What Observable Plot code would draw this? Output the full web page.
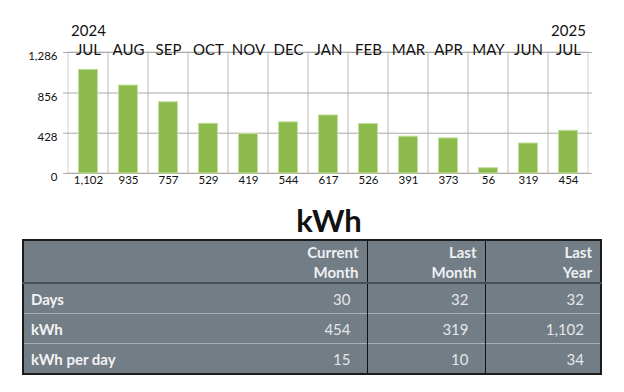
<!DOCTYPE html>
<html>
<head>
<meta charset="utf-8">
<script src="https://cdn.jsdelivr.net/npm/d3@7"></script>
<script src="https://cdn.jsdelivr.net/npm/@observablehq/plot@0.6"></script>
<style>
  html, body { margin: 0; padding: 0; background: #fff; }
  body { width: 624px; height: 392px; position: relative; font-family: Lato, "Open Sans", sans-serif; overflow: hidden; }
  #chart { position: absolute; left: 0; top: 0; }
  #title { position: absolute; left: 0; top: 201px; width: 624px; text-align: center; padding-left: 34px; box-sizing: border-box;
           font-size: 31px; font-weight: bold; color: #111; line-height: 38px; }
  table { position: absolute; left: 22px; top: 239px; width: 578px; table-layout: fixed; border-collapse: collapse; background: #737d86;
          border: 2px solid #1c1c1c; color: #eef0f2; font-size: 15px; }
  td, th { padding: 0; }
  th { font-weight: bold; text-align: right; padding-right: 8px; height: 41px; line-height: 20px; vertical-align: middle; }
  thead tr { border-bottom: 2px solid #4a5057; }
  tbody tr + tr { border-top: 1px solid #a8aeb4; }
  tbody td { height: 29px; text-align: right; padding-right: 16px; color: #e4e6e8; }
  tbody td.lab { text-align: left; padding-left: 7px; font-weight: bold; color: #f2f3f4; }
  .sep { border-left: 1px solid #111; }
</style>
</head>
<body>
<div id="chart"></div>
<div id="title">kWh</div>
<table id="tbl"></table>
<script>
// ---- data ----
const keys = ["2024-07","2024-08","2024-09","2024-10","2024-11","2024-12","2025-01","2025-02","2025-03","2025-04","2025-05","2025-06","2025-07"];
const months = ["JUL","AUG","SEP","OCT","NOV","DEC","JAN","FEB","MAR","APR","MAY","JUN","JUL"];
const kwh = [1102, 935, 757, 529, 419, 544, 617, 526, 391, 373, 56, 319, 454];
const yearKeys = ["2024-07", "2025-07"];
const yearLabels = ["2024", "2025"];
const yTicks = [0, 428, 856, 1286];

const tableColumns = ["Current\nMonth", "Last\nMonth", "Last\nYear"];
const tableRows = ["Days", "kWh", "kWh per day"];
const currentMonth = [30, 454, 15];
const lastMonth = [32, 319, 10];
const lastYear = [32, 1102, 34];

// ---- chart ----
const data = keys.map((k, i) => ({key: k, month: months[i], value: kwh[i]}));
const years = yearKeys.map((k, i) => ({key: k, label: yearLabels[i]}));
const fmt = d3.format(",");

const chart = Plot.plot({
  width: 624,
  height: 196,
  marginLeft: 63,
  marginRight: 32,
  marginTop: 52,
  marginBottom: 23,
  style: {fontFamily: "Lato, 'Open Sans', sans-serif", color: "#111", background: "transparent"},
  x: {type: "band", domain: keys, padding: 0, axis: null},
  y: {domain: [0, 1286], axis: null},
  marks: [
    Plot.cell(data, {x: "key", fill: "none", stroke: "#cfcfcf", strokeWidth: 1}),
    Plot.ruleY(yTicks, {stroke: "#a9a9a9", strokeWidth: 1}),
    Plot.barY(data, {x: "key", y: "value", fill: "#8cba4c", stroke: "#c4dfa0", strokeWidth: 1, insetLeft: 10.5, insetRight: 10.5}),
    Plot.text(data, {x: "key", text: "month", frameAnchor: "top", dy: -8, fontSize: 15, fill: "#111"}),
    Plot.text(years, {x: "key", text: "label", frameAnchor: "top", dy: -27, fontSize: 15, fill: "#111"}),
    Plot.text(data, {x: "key", text: d => fmt(d.value), frameAnchor: "bottom", dy: 10, fontSize: 11.5, fill: "#111"}),
    Plot.text(yTicks, {y: d => d, text: d => fmt(d), frameAnchor: "left", textAnchor: "end", dx: -6, dy: 4, fontSize: 11.5, fill: "#111"})
  ]
});
document.getElementById("chart").appendChild(chart);

// ---- table ----
const tbl = document.getElementById("tbl");
let html = "<colgroup><col style='width:230px'><col style='width:114px'><col style='width:118px'><col style='width:116px'></colgroup>";
html += "<thead><tr><th></th>";
tableColumns.forEach((c, i) => { html += `<th class='${i ? "sep" : ""}'>${c.replace("\n", "<br>")}</th>`; });
html += "</tr></thead><tbody>";
tableRows.forEach((r, i) => {
  html += `<tr><td class='lab'>${r}</td><td>${fmt(currentMonth[i])}</td><td class='sep'>${fmt(lastMonth[i])}</td><td class='sep'>${fmt(lastYear[i])}</td></tr>`;
});
html += "</tbody>";
tbl.innerHTML = html;
</script>
</body>
</html>
